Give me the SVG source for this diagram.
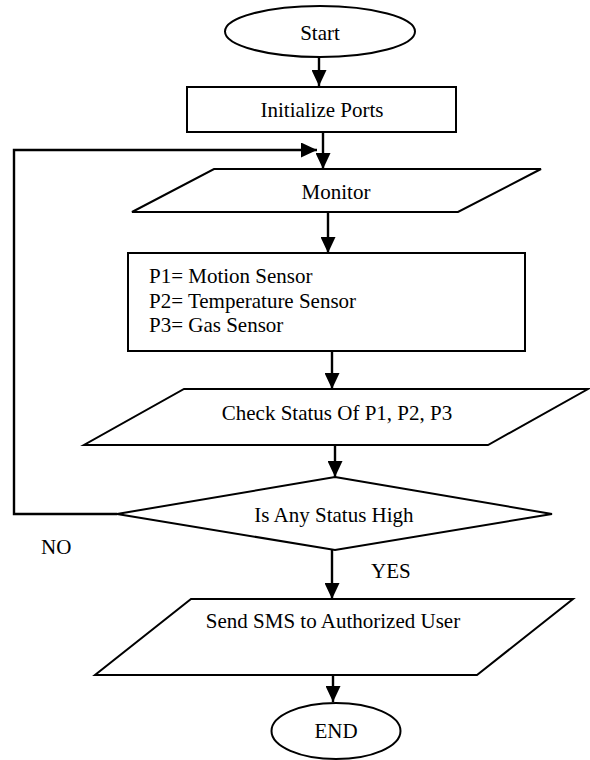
<svg xmlns="http://www.w3.org/2000/svg" width="590" height="760" viewBox="0 0 590 760">
<style>
.shape{fill:#fff;stroke:#000;stroke-width:2}
.t{font-family:"Liberation Serif","Times New Roman",serif;font-size:21px;fill:#000}
.c{text-anchor:middle}
.con{fill:none;stroke:#000;stroke-width:2.4}
</style>
<defs>
<marker id="ah" markerUnits="userSpaceOnUse" markerWidth="16" markerHeight="15" refX="16" refY="7.5" orient="auto">
<path d="M0,0 L16,7.5 L0,15 z" fill="#000"/>
</marker>
</defs>
<rect width="590" height="760" fill="#fff"/>
<g id="connectors">
<line class="con" x1="319" y1="57" x2="319" y2="86" marker-end="url(#ah)"/>
<line class="con" x1="323" y1="132" x2="323" y2="169" marker-end="url(#ah)"/>
<polyline class="con" points="117,514 14,514 14,150 317,150" marker-end="url(#ah)"/>
<line class="con" x1="328" y1="212" x2="328" y2="253" marker-end="url(#ah)"/>
<line class="con" x1="332" y1="351" x2="332" y2="389" marker-end="url(#ah)"/>
<line class="con" x1="335" y1="445" x2="335" y2="477" marker-end="url(#ah)"/>
<line class="con" x1="332" y1="550" x2="332" y2="599" marker-end="url(#ah)"/>
<line class="con" x1="333" y1="675" x2="333" y2="702" marker-end="url(#ah)"/>
<text class="t" x="41" y="554">NO</text>
<text class="t" x="371" y="578">YES</text>
</g>
<g id="start">
<ellipse class="shape" cx="320" cy="31.5" rx="95" ry="25.5"/>
<text class="t c" x="320" y="40">Start</text>
</g>
<g id="init">
<rect class="shape" x="187" y="87" width="269" height="45"/>
<text class="t c" x="322" y="117">Initialize Ports</text>
</g>
<g id="monitor">
<polygon class="shape" points="214,169 541,169 458,212 132,212"/>
<text class="t c" x="336" y="199">Monitor</text>
</g>
<g id="sensors">
<rect class="shape" x="128" y="253" width="397" height="98"/>
<text class="t" x="149" y="283">P1= Motion Sensor</text>
<text class="t" x="149" y="308">P2= Temperature Sensor</text>
<text class="t" x="149" y="332">P3= Gas Sensor</text>
</g>
<g id="check">
<polygon class="shape" points="184,389 588,389 488,445 84,445"/>
<text class="t c" x="337" y="420">Check Status Of P1, P2, P3</text>
</g>
<g id="decision">
<polygon class="shape" points="335,477 552,514 335,550 117,514"/>
<text class="t c" x="334" y="522">Is Any Status High</text>
</g>
<g id="sms">
<polygon class="shape" points="191,599 573,599 477,675 95,675"/>
<text class="t c" x="333" y="628">Send SMS to Authorized User</text>
</g>
<g id="end">
<ellipse class="shape" cx="336" cy="731" rx="64.5" ry="28"/>
<text class="t c" x="336" y="738">END</text>
</g>
</svg>
